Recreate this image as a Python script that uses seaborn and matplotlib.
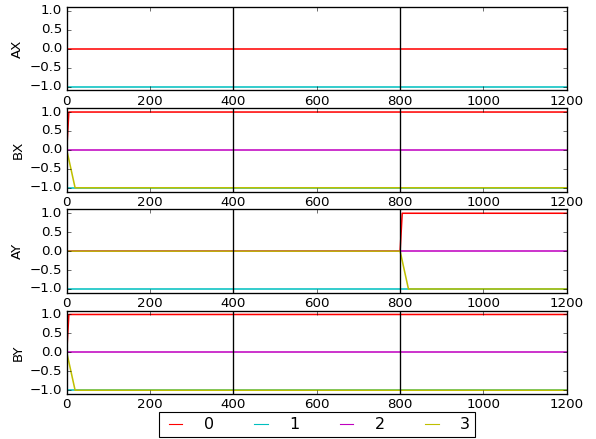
"""
Four stacked step-response panels with shared legend
"""
import matplotlib
matplotlib.use('Agg')
import matplotlib.pyplot as plt
import seaborn as sns
import numpy as np

# panel names and series labels
panels = ['AX', 'BX', 'AY', 'BY']
series_labels = ['0', '1', '2', '3']
series_colors = ['r', 'c', 'm', 'y']
vlines = [400, 800]

# AX: only series 0 and 1
ax_t0 = [0, 1200]
ax_y0 = [0, 0]
ax_t1 = [0, 1200]
ax_y1 = [-1, -1]

# BX
bx_t0 = [0, 5, 1200]
bx_y0 = [0, 1, 1]
bx_t1 = [0, 1200]
bx_y1 = [-1, -1]
bx_t2 = [0, 1200]
bx_y2 = [0, 0]
bx_t3 = [0, 20, 1200]
bx_y3 = [0, -1, -1]

# AY
ay_t0 = [0, 800, 805, 1200]
ay_y0 = [0, 0, 1, 1]
ay_t1 = [0, 1200]
ay_y1 = [-1, -1]
ay_t2 = [0, 1200]
ay_y2 = [0, 0]
ay_t3 = [0, 800, 820, 1200]
ay_y3 = [0, 0, -1, -1]

# BY
by_t0 = [0, 5, 1200]
by_y0 = [0, 1, 1]
by_t1 = [0, 1200]
by_y1 = [-1, -1]
by_t2 = [0, 1200]
by_y2 = [0, 0]
by_t3 = [0, 20, 1200]
by_y3 = [0, -1, -1]

panel_data = {
    'AX': [(ax_t0, ax_y0), (ax_t1, ax_y1), None, None],
    'BX': [(bx_t0, bx_y0), (bx_t1, bx_y1), (bx_t2, bx_y2), (bx_t3, bx_y3)],
    'AY': [(ay_t0, ay_y0), (ay_t1, ay_y1), (ay_t2, ay_y2), (ay_t3, ay_y3)],
    'BY': [(by_t0, by_y0), (by_t1, by_y1), (by_t2, by_y2), (by_t3, by_y3)],
}

plt.style.use('classic')
fig, axes = plt.subplots(4, 1, figsize=(596 / 80, 439 / 80), dpi=80)
fig.patch.set_facecolor('white')
plt.subplots_adjust(left=0.112, right=0.951, top=0.984, bottom=0.1025, hspace=0.215)

handles = {}
for ax, name in zip(axes, panels):
    for i, d in enumerate(panel_data[name]):
        if d is None:
            continue
        t, y = d
        sns.lineplot(x=t, y=y, ax=ax, color=series_colors[i], linewidth=1.4,
                     label=series_labels[i], sort=False, estimator=None)
        handles[series_labels[i]] = ax.get_lines()[-1]
    for v in vlines:
        ax.axvline(v, color='k', linewidth=1.2)
    leg = ax.get_legend()
    if leg is not None:
        leg.remove()
    ax.set_xlim(0, 1200)
    ax.set_ylim(-1.1, 1.1)
    ax.set_xticks(np.arange(0, 1201, 200))
    ax.set_yticks([-1.0, -0.5, 0.0, 0.5, 1.0])
    ax.set_ylabel(name)
    ax.set_xlabel('')
    for s in ax.spines.values():
        s.set_linewidth(1.2)

leg = fig.legend([handles[k] for k in series_labels], series_labels,
                 loc='lower center', bbox_to_anchor=(0.532, 2 / 439), ncol=4,
                 fontsize=14.4, borderaxespad=0, borderpad=0.3,
                 handlelength=1.45, handletextpad=1.05, columnspacing=2.2)
for h in leg.get_lines():
    h.set_linewidth(1.0)

plt.savefig('out.png', dpi=80, facecolor='white')
plt.close()
